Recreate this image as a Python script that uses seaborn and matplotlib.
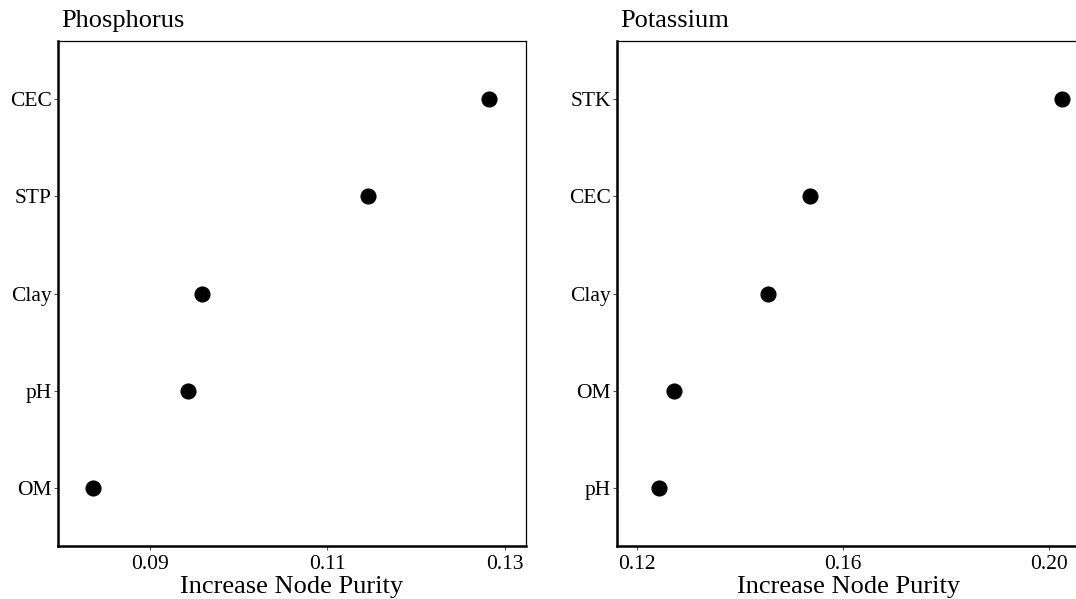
import numpy as np
import pandas as pd
import matplotlib
matplotlib.use("Agg")
import matplotlib.pyplot as plt
import seaborn as sns

# Variable importance (IncNodePurity)
p_vars = ["CEC", "STP", "Clay", "pH", "OM"]
p_purity = [0.1282, 0.1146, 0.0959, 0.0943, 0.0835]

k_vars = ["STK", "CEC", "Clay", "OM", "pH"]
k_purity = [0.2025, 0.1536, 0.1454, 0.1272, 0.1243]

p_ticks = [0.09, 0.11, 0.13]
k_ticks = [0.12, 0.16, 0.20]

sns.set_style("white")
plt.rcParams['font.family'] = ['Liberation Serif', 'DejaVu Serif']
plt.rcParams['text.color'] = 'black'
plt.rcParams['axes.labelcolor'] = 'black'

fig = plt.figure(figsize=(10.76, 5.99), dpi=100)
ax_p = fig.add_axes([58 / 1076, 53 / 599, 468 / 1076, 505 / 599])
ax_k = fig.add_axes([617 / 1076, 53 / 599, 463 / 1076, 505 / 599])

panels = [
    (ax_p, "Phosphorus", p_vars, p_purity, p_ticks, (0.0796, 0.1324)),
    (ax_k, "Potassium", k_vars, k_purity, k_ticks, (0.1161, 0.2060)),
]

for ax, title, names, vals, ticks, xlim in panels:
    df = pd.DataFrame({"var": names, "purity": vals})
    sns.scatterplot(data=df, x="purity", y="var", ax=ax, color="black",
                    s=135, edgecolor="black", linewidth=0, zorder=3)
    ax.set_xlim(*xlim)
    ax.set_ylim(len(names) - 1 + 0.6, -0.6)
    ax.set_xticks(ticks)
    ax.set_xticklabels([f"{t:.2f}" for t in ticks])
    ax.set_title(title, loc="left", fontsize=19, pad=10, x=0.006)
    ax.set_xlabel("Increase Node Purity", fontsize=19, labelpad=1.2)
    ax.set_ylabel("")
    ax.tick_params(axis="both", labelsize=15.5, length=3, width=0.8,
                   color="#555555", labelcolor="black", left=True, bottom=True)
    ax.tick_params(axis="x", pad=3.5)
    ax.tick_params(axis="y", pad=1.5)
    for side in ["left", "bottom"]:
        ax.spines[side].set_linewidth(1.8)
        ax.spines[side].set_color("black")
    for side in ["top", "right"]:
        ax.spines[side].set_linewidth(0.9)
        ax.spines[side].set_color("black")
    ax.grid(False)

fig.savefig("out.png", dpi=100)
